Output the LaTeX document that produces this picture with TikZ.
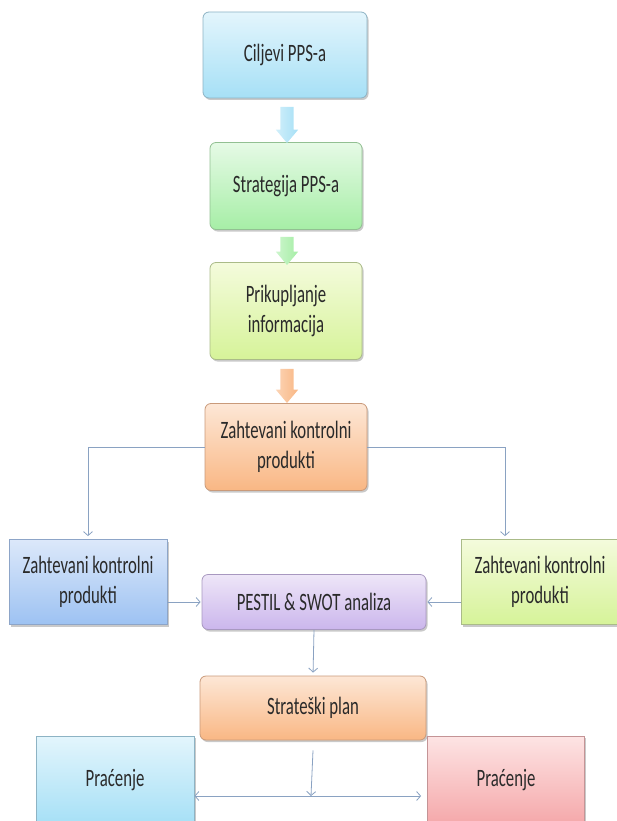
\documentclass[tikz,border=0pt]{standalone}
\usepackage{fontspec}
\setmainfont{Carlito}[FakeStretch=0.67]
\usetikzlibrary{arrows.meta, positioning, shapes.arrows, shadows}
\definecolor{linkblue}{HTML}{8AA2C2}
\definecolor{txt}{HTML}{2A2A2A}
\definecolor{skyTop}{HTML}{E3F5FC}\definecolor{skyBot}{HTML}{A6E0F6}\definecolor{skyLine}{HTML}{8DB3C4}
\definecolor{mintTop}{HTML}{E6FAE6}\definecolor{mintBot}{HTML}{A6EEA6}\definecolor{mintLine}{HTML}{92C092}
\definecolor{limeTop}{HTML}{F4FBDC}\definecolor{limeBot}{HTML}{D6F399}\definecolor{limeLine}{HTML}{AABB88}
\definecolor{peachTop}{HTML}{FDE7D6}\definecolor{peachBot}{HTML}{F9B784}\definecolor{peachLine}{HTML}{C99A7A}
\definecolor{azureTop}{HTML}{DCE8FA}\definecolor{azureBot}{HTML}{9DC2F2}\definecolor{azureLine}{HTML}{8DA5C8}
\definecolor{lilacTop}{HTML}{EEE6F8}\definecolor{lilacBot}{HTML}{CBB6EC}\definecolor{lilacLine}{HTML}{A898C0}
\definecolor{roseTop}{HTML}{FDE4E4}\definecolor{roseBot}{HTML}{F5A8AA}\definecolor{roseLine}{HTML}{C49496}

\begin{document}
\begin{tikzpicture}[x=1pt,y=-1pt, font=\fontsize{25}{30}\selectfont]
    \tikzstyle{box}=[rectangle, draw, line width=0.8pt, inner sep=2pt, align=center, text=txt,
        drop shadow={shadow xshift=1.5pt, shadow yshift=-2pt, opacity=0.3, fill=black!70}]
    \tikzstyle{round box}=[box, rounded corners=6pt]
    \tikzstyle{flow}=[single arrow, rotate=-90, draw=none, inner sep=6.5pt,
        single arrow head extend=4.5pt, single arrow tip angle=80, minimum height=36pt]
    \tikzstyle{link}=[draw=linkblue, line width=0.8pt, -{Straight Barb[length=4pt,width=9pt]}]

    \useasboundingbox (0,0) rectangle (617,821);

    % main column
    \node[round box, minimum width=164pt, minimum height=86pt,
          top color=skyTop, bottom color=skyBot, draw=skyLine] (ciljevi) at (285,55) {Ciljevi PPS-a};
    \node[round box, minimum width=152pt, minimum height=87pt,
          top color=mintTop, bottom color=mintBot, draw=mintLine] (strategija) at (286,186) {Strategija PPS-a};
    \node[round box, minimum width=152pt, minimum height=97pt,
          top color=limeTop, bottom color=limeBot, draw=limeLine] (prikupljanje) at (286,311) {Prikupljanje\\informacija};
    \node[round box, minimum width=162pt, minimum height=87pt,
          top color=peachTop, bottom color=peachBot, draw=peachLine] (zahtevani) at (286,447) {Zahtevani kontrolni\\produkti};

    \node[flow, left color=skyTop!70!skyBot, right color=skyBot] (flow1) at (287,121) {};
    \node[flow, left color=mintTop!60!mintBot, right color=mintBot, minimum height=28pt] (flow2) at (287,247) {};
    \node[flow, left color=peachTop!60!peachBot, right color=peachBot, minimum height=34pt] (flow3) at (287,382) {};

    % middle row
    \node[box, minimum width=158pt, minimum height=85pt,
          top color=azureTop, bottom color=azureBot, draw=azureLine] (zahtLeft) at (88,582) {Zahtevani kontrolni\\produkti};
    \node[box, minimum width=158pt, minimum height=85pt,
          top color=limeTop, bottom color=limeBot, draw=limeLine] (zahtRight) at (540,582) {Zahtevani kontrolni\\produkti};
    \node[round box, minimum width=224pt, minimum height=55pt,
          top color=lilacTop, bottom color=lilacBot, draw=lilacLine] (pestil) at (314,602) {PESTIL \& SWOT analiza};

    % bottom row
    \node[round box, minimum width=226pt, minimum height=64pt,
          top color=peachTop, bottom color=peachBot, draw=peachLine] (strateski) at (313,708) {Strateški plan};
    \node[box, minimum width=158pt, minimum height=88pt,
          top color=skyTop, bottom color=skyBot, draw=skyLine] (pracLeft) at (115,780) {Praćenje};
    \node[box, minimum width=157pt, minimum height=88pt,
          top color=roseTop, bottom color=roseBot, draw=roseLine] (pracRight) at (506,780) {Praćenje};

    \coordinate (split) at (311,796);

    \draw[link, shorten >=3pt] (zahtevani.west) -| (zahtLeft.north);
    \draw[link, shorten >=3pt] (zahtevani.east) -| ([xshift=-35pt]zahtRight.north);
    \draw[link, shorten >=1pt] (pestil.west -| zahtLeft.east) -- (pestil.west);
    \draw[link, shorten >=1pt] (pestil.east -| zahtRight.west) -- (pestil.east);
    \draw[link, shorten >=3pt] (pestil.south) -- (strateski.north);
    \draw[link] ([yshift=-10pt]strateski.south) -- (split);
    \draw[link, {Straight Barb[length=4pt,width=9pt]}-{Straight Barb[length=4pt,width=9pt]}, shorten >=6pt]
        (pracLeft.east |- split) -- (pracRight.west |- split);
\end{tikzpicture}
\end{document}
